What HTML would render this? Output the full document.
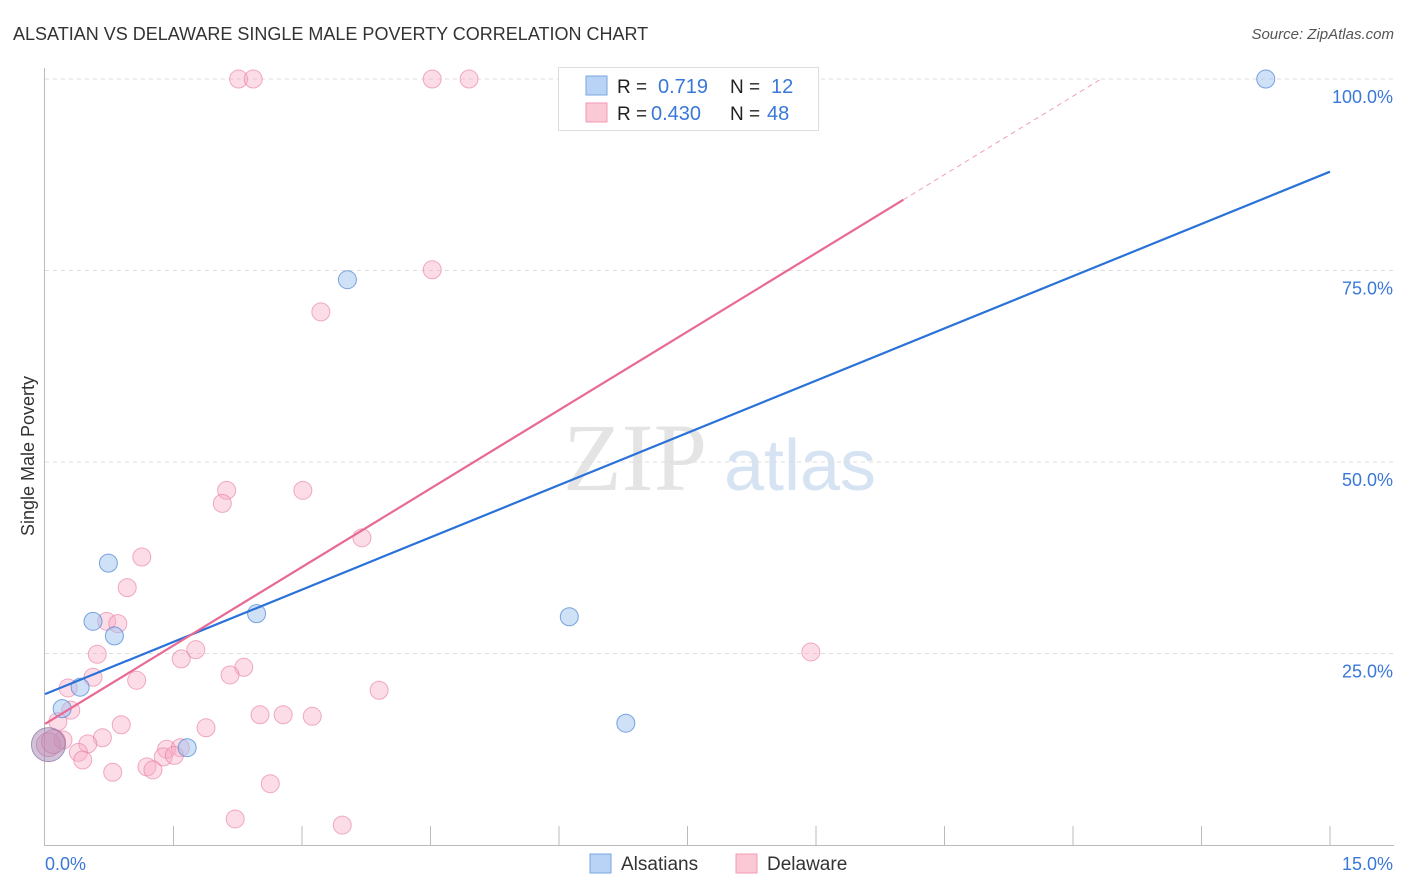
<!DOCTYPE html>
<html><head><meta charset="utf-8"><style>
body{margin:0;background:#fff;font-family:"Liberation Sans",sans-serif;}
svg{display:block}
</style></head><body>
<svg id="c" width="1406" height="892">
<text x="13" y="40" font-size="18" fill="#333">ALSATIAN VS DELAWARE SINGLE MALE POVERTY CORRELATION CHART</text>
<text x="1394" y="39" font-size="15" fill="#555" font-style="italic" text-anchor="end">Source: ZipAtlas.com</text>
<text x="34" y="456" font-size="18" fill="#333" text-anchor="middle" transform="rotate(-90 34 456)">Single Male Poverty</text>
<g><text x="635" y="490" font-size="96" fill="#e4e4e4" font-family="Liberation Serif,serif" text-anchor="middle">ZIP</text><text x="800" y="490" font-size="72" fill="#d6e3f3" text-anchor="middle">atlas</text></g>
<g id="grid"></g><g id="marks"></g><g id="lines"></g>
<g>
<rect x="558.5" y="67.5" width="260" height="63" fill="#fff" stroke="#ddd"/>
<rect x="586" y="76" width="21" height="19" fill="#b8d3f5" stroke="#7aa7e0"/>
<rect x="586" y="103" width="21" height="19" fill="#fbc8d6" stroke="#f09ab3"/>
<text x="617" y="93" font-size="19" fill="#222">R =</text><text x="658" y="93" font-size="20" fill="#3a78d8">0.719</text>
<text x="730" y="93" font-size="19" fill="#222">N =</text><text x="771" y="93" font-size="20" fill="#3a78d8">12</text>
<text x="617" y="120" font-size="19" fill="#222">R =</text><text x="651" y="120" font-size="20" fill="#3a78d8">0.430</text>
<text x="730" y="120" font-size="19" fill="#222">N =</text><text x="767" y="120" font-size="20" fill="#3a78d8">48</text>
</g>
<g>
<rect x="590" y="854" width="21" height="19" fill="#b8d3f5" stroke="#7aa7e0"/><text x="621" y="870" font-size="19" fill="#333">Alsatians</text>
<rect x="736" y="854" width="21" height="19" fill="#fbc8d6" stroke="#f09ab3"/><text x="767" y="870" font-size="19" fill="#333">Delaware</text>
</g>
</svg>
<script>
const yTicks=[25,50,75,100];
const yTickLabels=["25.0%","50.0%","75.0%","100.0%"];
const xTickCount=10;
const alsX=[14.25,3.53,0.74,0.56,0.81,2.47,6.12,0.41,0.20,6.78,1.66,0.04];
const alsY=[100,73.8,36.8,29.2,27.3,30.2,29.8,20.6,17.8,15.9,12.7,13.1];
const delX=[2.26,2.43,4.52,4.95,4.52,3.22,2.12,3.01,2.07,3.70,1.13,0.96,0.72,0.85,0.61,1.76,1.59,2.32,2.16,1.07,0.56,0.27,3.90,0.30,2.51,2.78,3.12,0.89,1.88,0.15,0.67,0.21,0.50,0.39,0.44,1.42,1.58,1.38,1.51,1.19,1.26,0.79,2.63,2.22,3.47,8.94,0.04,0.10];
const delY=[100,100,100,100,75.1,69.6,46.3,46.3,44.6,40.1,37.6,33.6,29.2,28.9,24.9,25.5,24.3,23.2,22.2,21.5,21.9,20.5,20.2,17.6,17.0,17.0,16.8,15.7,15.3,16.1,14.0,13.7,13.2,12.1,11.1,12.5,12.7,11.5,11.7,10.2,9.8,9.5,8.0,3.4,2.6,25.2,13.1,13.5];
const alsLine=[19.7,87.9];
const delLine=[15.8,6.83,10.02];
const NS="http://www.w3.org/2000/svg";
const X=v=>45+v*1285/15, Y=v=>845-v*7.66;
function mk(p,t,a){const e=document.createElementNS(NS,t);for(const k in a)e.setAttribute(k,a[k]);p.appendChild(e);return e;}
const g=document.getElementById('grid'),m=document.getElementById('marks'),l=document.getElementById('lines'),svg=document.getElementById('c');
let ax=mk(g,'line',{x1:44.5,y1:68,x2:44.5,y2:845,stroke:'#bbb'});


let bx=mk(g,'line',{x1:44,y1:845.5,x2:1394,y2:845.5,stroke:'#bbb'});


yTicks.forEach((t,i)=>{
 const gl=mk(g,'line',{x1:45,x2:1394,y1:Y(t),y2:Y(t),stroke:'#ddd','stroke-dasharray':'4,4'});
 
 
 const tx=mk(svg,'text',{x:1393,y:Y(t)+24,'font-size':18,fill:'#3a78d8','text-anchor':'end'});
 tx.textContent=yTickLabels[i];
 
 
});
for(let i=1;i<=xTickCount;i++){const x=X(i*1.5);const t=mk(g,'line',{x1:x,x2:x,y1:826,y2:845,stroke:'#bbb'});
 
 }
const x0=mk(svg,'text',{x:45,y:870,'font-size':18,fill:'#3a78d8'});x0.textContent='0.0%';


const x1=mk(svg,'text',{x:1393,y:870,'font-size':18,fill:'#3a78d8','text-anchor':'end'});x1.textContent='15.0%';


delX.forEach((v,i)=>{const big=i>=46;const c=mk(m,'circle',{cx:X(v),cy:Y(delY[i]),r:big?12:9,fill:'rgba(248,170,195,0.4)',stroke:'rgba(230,120,160,0.6)'});
 
 });
alsX.forEach((v,i)=>{const big=i==11;const c=mk(m,'circle',{cx:X(v),cy:Y(alsY[i]),r:big?17:9,fill:big?'rgba(150,120,170,0.45)':'rgba(160,195,240,0.5)',stroke:big?'rgba(140,110,160,0.7)':'rgba(70,130,210,0.7)'});
 
 });
const bl=mk(l,'line',{x1:X(0),y1:Y(alsLine[0]),x2:X(15),y2:Y(alsLine[1]),stroke:'#2a72d8','stroke-width':2.2});


const pe=delLine[2],pd=(100-delLine[0])/delLine[1];
const pl=mk(l,'line',{x1:X(0),y1:Y(delLine[0]),x2:X(pe),y2:Y(delLine[0]+delLine[1]*pe),stroke:'#e86a94','stroke-width':2.2});


const pdl=mk(l,'line',{x1:X(pe),y1:Y(delLine[0]+delLine[1]*pe),x2:X(pd),y2:Y(100),stroke:'#f0a0b8','stroke-width':1,'stroke-dasharray':'5,4'});


</script>
</body></html>
